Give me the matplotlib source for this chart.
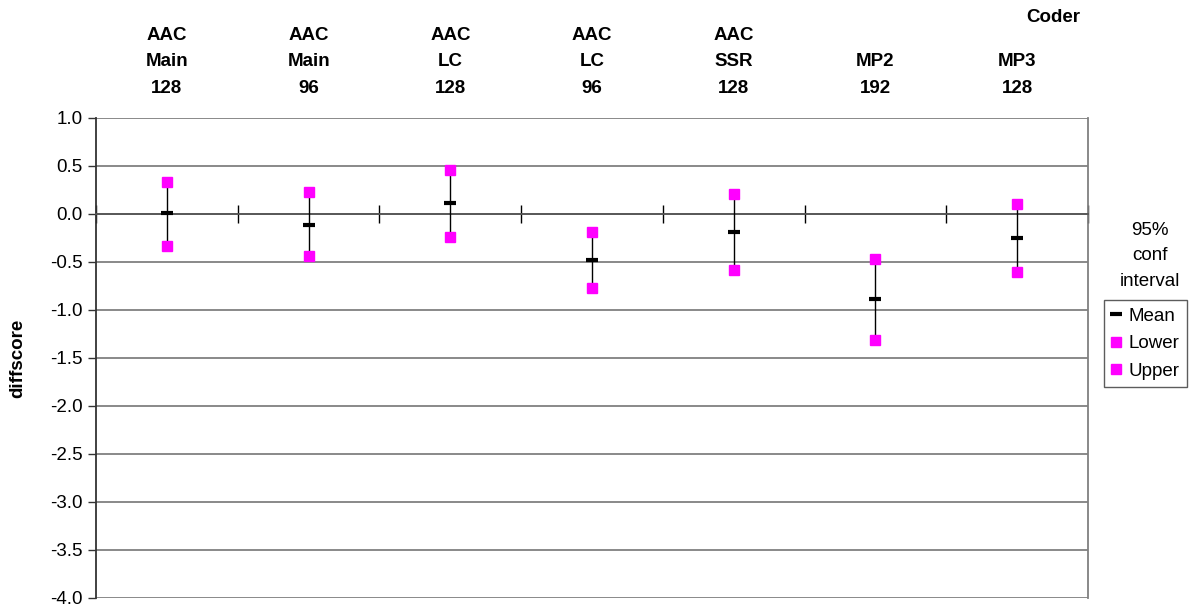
import numpy as np
import matplotlib.pyplot as plt
from matplotlib.lines import Line2D
from matplotlib.transforms import blended_transform_factory

plt.rcParams['font.family'] = ['Liberation Sans', 'DejaVu Sans']

coders = ['AAC\nMain\n128', 'AAC\nMain\n96', 'AAC\nLC\n128', 'AAC\nLC\n96',
          'AAC\nSSR\n128', 'MP2\n192', 'MP3\n128']
mean = [0.01, -0.11, 0.11, -0.48, -0.19, -0.89, -0.25]
lower = [-0.33, -0.44, -0.24, -0.77, -0.58, -1.31, -0.60]
upper = [0.33, 0.23, 0.46, -0.19, 0.21, -0.47, 0.10]

x = np.arange(len(coders))
fs = 13.5

fig = plt.figure(figsize=(11.91, 6.09), dpi=100)
ax = fig.add_axes([96/1191, 11/609, 992/1191, 480/609])

# range lines, then the lower/upper squares and the mean dash
ax.vlines(x, lower, upper, color='black', lw=1, zorder=3)
ax.plot(x, lower, 's', color='#ff00ff', ms=7.5, zorder=4, label='Lower')
ax.plot(x, upper, 's', color='#ff00ff', ms=7.5, zorder=4, label='Upper')
ax.plot(x, mean, '_', color='black', ms=9, mew=3, zorder=5, label='Mean')

ax.set_xlim(-0.5, len(coders) - 0.5)
ax.set_ylim(-4.0, 1.0)
yt = np.arange(-4.0, 1.01, 0.5)
ax.set_yticks(yt)
ax.set_yticklabels(['%.1f' % v for v in yt], fontsize=fs)
ax.tick_params(axis='y', direction='out', length=6, width=1, color='#333333')
for v in yt:
    ax.axhline(v, color='#808080', lw=1.3, zorder=1)

# category axis sits on the zero line, ticks between coders
ax.spines['bottom'].set_position(('data', 0))
ax.spines['bottom'].set_color('#555555')
ax.spines['bottom'].set_linewidth(1.3)
ax.set_xticks(np.arange(-0.5, len(coders), 1.0))
ax.set_xticklabels([])
ax.tick_params(axis='x', direction='inout', length=13, width=1, color='black')
ax.spines['top'].set_visible(False)
ax.spines['right'].set_color('#808080')
ax.spines['right'].set_linewidth(1.3)
ax.spines['left'].set_color('#333333')
ax.spines['left'].set_linewidth(1.3)

tr = blended_transform_factory(ax.transData, fig.transFigure)
for xi, name in zip(x, coders):
    ax.text(xi, 1 - 97/609, name, ha='center', va='bottom', fontsize=fs,
            fontweight='bold', linespacing=1.75, transform=tr)

fig.text(1080/1191, 1 - 18/609, 'Coder', ha='right', va='center',
         fontsize=fs, fontweight='bold')
fig.text(18/1191, 1 - 358/609, 'diffscore', rotation=90, ha='center',
         va='center', fontsize=fs, fontweight='bold')
fig.text(1150/1191, 1 - 256/609, '95%\nconf\ninterval', ha='center',
         va='center', fontsize=fs, linespacing=1.65)

handles = [Line2D([], [], marker='_', color='black', ls='none', ms=9, mew=3),
           Line2D([], [], marker='s', color='#ff00ff', ls='none', ms=7.5),
           Line2D([], [], marker='s', color='#ff00ff', ls='none', ms=7.5)]
fig.legend(handles, ['Mean', 'Lower', 'Upper'], loc='upper left',
           bbox_to_anchor=(1104/1191, 1 - 300/609), fontsize=fs,
           frameon=True, fancybox=False, edgecolor='#333333',
           handlelength=0.5, handletextpad=0.4, borderpad=0.4,
           labelspacing=0.55, borderaxespad=0)

fig.savefig('out.png', dpi=100)
